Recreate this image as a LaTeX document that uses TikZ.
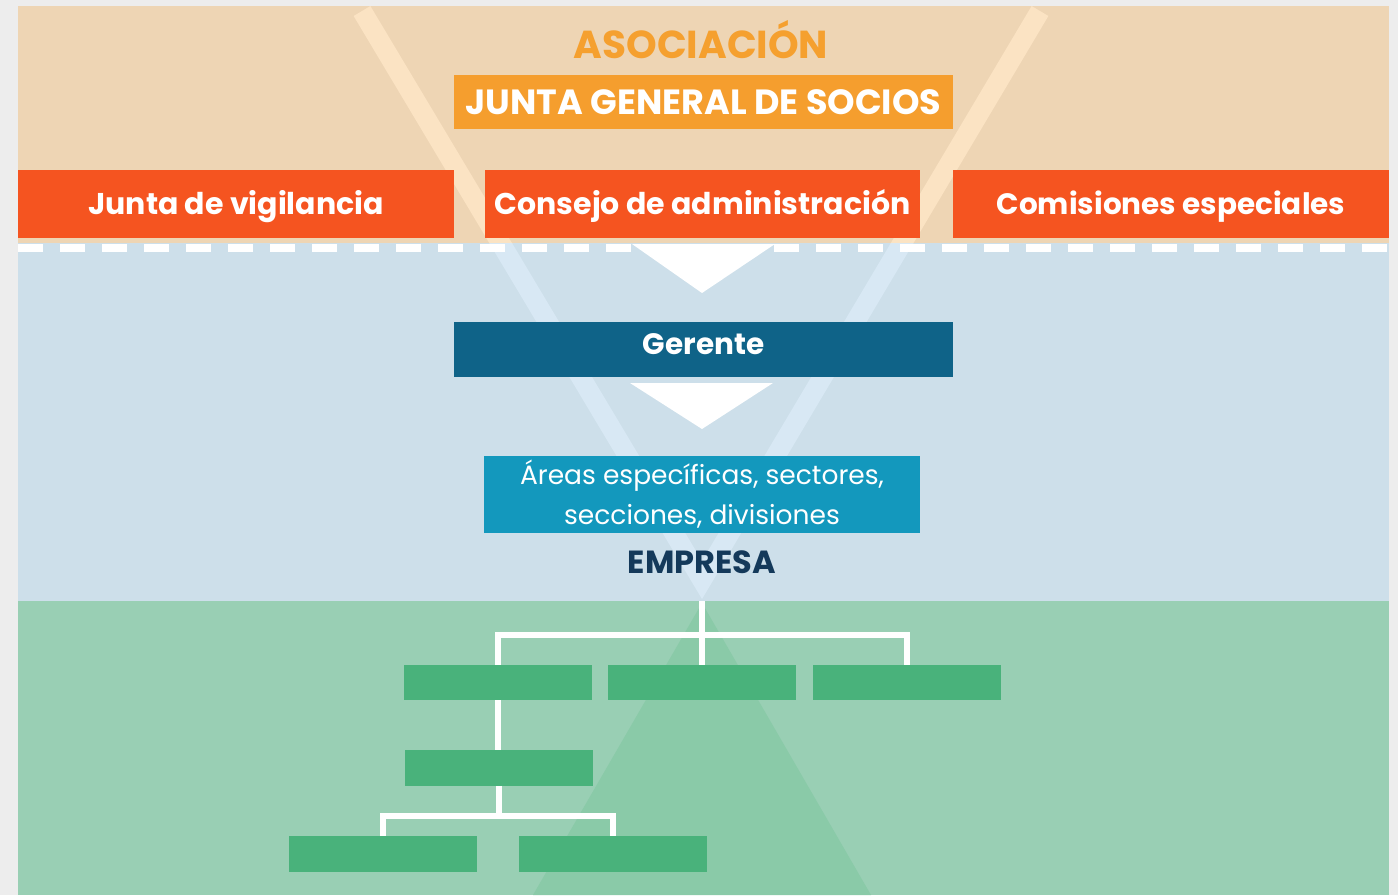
\documentclass[tikz,border=0pt]{standalone}
\usepackage{fontspec}
\setmainfont{Poppins}
\definecolor{pagegray}{HTML}{EDEDED}
\definecolor{tanbg}{HTML}{EED5B4}
\definecolor{tanline}{HTML}{FBE3C3}
\definecolor{bluebg}{HTML}{CDDFEA}
\definecolor{blueline}{HTML}{D8E8F4}
\definecolor{greenbg}{HTML}{99CFB4}
\definecolor{greentri}{HTML}{8ACAA8}
\definecolor{asocorange}{HTML}{F5A02F}
\definecolor{jgsorange}{HTML}{F59E2E}
\definecolor{redorange}{HTML}{F55420}
\definecolor{gerblue}{HTML}{0F6388}
\definecolor{areateal}{HTML}{1398BD}
\definecolor{empnavy}{HTML}{14395A}
\definecolor{greenbox}{HTML}{49B27B}
\tikzset{
  box/.style={inner sep=0pt, text=white, font=\bfseries\fontsize{30}{36}\selectfont, text height=21pt, text depth=0pt},
  redbox/.style={box, fill=redorange, minimum width=436pt, minimum height=68pt},
  leaf/.style={fill=greenbox, inner sep=0pt, minimum width=188pt, minimum height=35.5pt},
  tree/.style={draw=white, line width=6pt},
  vline/.style={line width=19.5pt, line join=miter},
  downtri/.style={fill=white},
}
\begin{document}
\begin{tikzpicture}[x=1pt,y=-1pt]
\fill[pagegray] (0,0) rectangle (1398,895);
\useasboundingbox (0,0) rectangle (1398,895);
\fill[tanbg] (18,6) rectangle (1389,243);
\fill[bluebg] (18,243) rectangle (1389,601);
\fill[greenbg] (18,601) rectangle (1389,895);
\begin{scope}
  \clip (18,6) rectangle (1389,243);
  \draw[vline, tanline] (362,11) -- (702,580) -- (1040,11);
\end{scope}
\begin{scope}
  \clip (18,243) rectangle (1389,601);
  \draw[vline, blueline] (362,11) -- (702,580) -- (1040,11);
\end{scope}
\fill[greentri] (702,603) -- (533,895) -- (871,895) -- cycle;
\draw[white, line width=8pt, dash pattern=on 25pt off 17pt] (18,248) -- (1389,248);

\node[font=\bfseries\fontsize{39}{46}\selectfont, text=asocorange, anchor=base, inner sep=0pt] (asoc) at (701,58) {ASOCIACIÓN};
\node[box, fill=jgsorange, minimum width=499pt, minimum height=54pt, font=\bfseries\fontsize{35}{42}\selectfont, text height=24pt] (jgs) at (703.5,102) {JUNTA GENERAL DE SOCIOS};
\node[redbox] (jv) at (236,204) {Junta de vigilancia};
\node[redbox, minimum width=435pt] (ca) at (702.5,204) {Consejo de administración};
\node[redbox, font=\bfseries\fontsize{29.5}{36}\selectfont] (ce) at (1171,204) {Comisiones especiales};
\fill[downtri] (632,244) -- (775,244) -- (702,293) -- cycle;
\node[box, fill=gerblue, minimum width=499pt, minimum height=55pt, font=\bfseries\fontsize{29.5}{36}\selectfont, text height=21pt, text depth=11pt] (ger) at (703.5,349.5) {Gerente};
\fill[downtri] (630,383) -- (773,383) -- (702,429) -- cycle;
\node[fill=areateal, text=white, inner sep=0pt, minimum width=436pt, minimum height=77pt, align=center, font=\fontsize{26.5}{40}\selectfont] (areas) at (702,494.5) {Áreas específicas, sectores,\\secciones, divisiones};
\node[font=\bfseries\fontsize{32}{38}\selectfont, text=empnavy, anchor=base, inner sep=0pt] (emp) at (702,573) {EMPRESA};

\node[leaf] (r1a) at (498,682.5) {};
\node[leaf] (r1b) at (702,682.5) {};
\node[leaf] (r1c) at (907,682.5) {};
\node[leaf] (r2) at (499,768) {};
\node[leaf] (r3a) at (383,854) {};
\node[leaf] (r3b) at (613,854) {};
\coordinate (treetop) at (702,601);
\draw[tree] (treetop) -- (r1b.north);
\draw[tree] (r1a.north) -- ++(0,-30) -| (r1c.north);
\draw[tree] (r1a.south) -- (r1a.south |- r2.north);
\draw[tree] (r2.south) -- (r2.south |- 0,816);
\draw[tree] (r3a.north) -- ++(0,-20) -| (r3b.north);
\end{tikzpicture}
\end{document}
